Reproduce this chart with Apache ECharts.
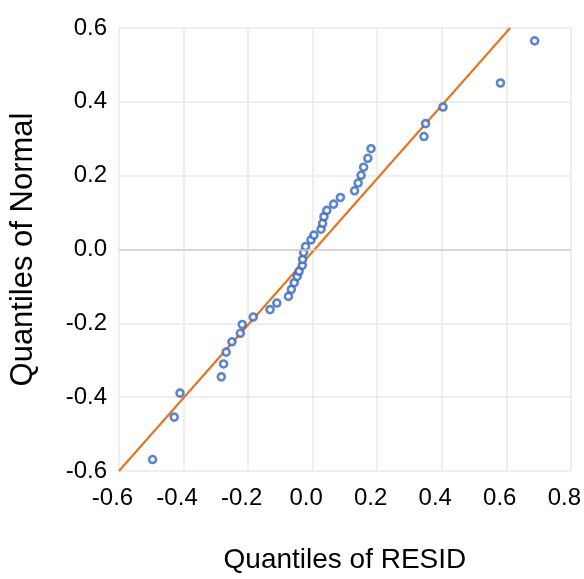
<!DOCTYPE html>
<html>
<head>
<meta charset="utf-8">
<script src="https://cdn.jsdelivr.net/npm/echarts@6/dist/echarts.min.js"></script>
<style>
  html, body { margin: 0; padding: 0; background: #fff; }
  #main { width: 584px; height: 579px; }
</style>
</head>
<body>
<div id="main"></div>
<script>
// residual quantiles (x) against normal quantiles (y)
let residQ = [-0.496, -0.429, -0.411, -0.283, -0.276, -0.268, -0.250, -0.224, -0.218, -0.184,
              -0.132, -0.111, -0.075, -0.066, -0.057, -0.048, -0.042, -0.032, -0.031, -0.028,
              -0.022, -0.005, 0.004, 0.026, 0.031, 0.035, 0.044, 0.065, 0.086, 0.130,
              0.141, 0.150, 0.158, 0.171, 0.181, 0.345, 0.350, 0.404, 0.582, 0.688];
let normalQ = [-0.569, -0.454, -0.389, -0.345, -0.310, -0.278, -0.250, -0.227, -0.203, -0.183,
               -0.163, -0.145, -0.127, -0.108, -0.090, -0.073, -0.059, -0.043, -0.027, -0.008,
               0.008, 0.026, 0.039, 0.055, 0.071, 0.089, 0.106, 0.123, 0.141, 0.159,
               0.180, 0.201, 0.223, 0.247, 0.273, 0.306, 0.341, 0.386, 0.451, 0.565];
// reference line ends
let refLine = [[-0.6, -0.6], [0.612, 0.6]];

let points = residQ.map(function (x, i) { return [x, normalQ[i]]; });

function fmt(v) {
    if (Math.abs(v) < 1e-9) return '0.0';
    return v.toFixed(1);
}

let myChart = echarts.init(document.getElementById('main'));
let font = 'Liberation Sans, Arial, sans-serif';
let option = {
    animation: false,
    grid: { left: 117, right: 13, top: 28, bottom: 101 },
    xAxis: {
        type: 'value',
        min: -0.6, max: 0.8, interval: 0.2,
        name: 'Quantiles of RESID',
        nameLocation: 'middle',
        nameGap: 75,
        nameTextStyle: { fontFamily: font, fontSize: 28, color: '#000' },
        axisLine: { show: false, onZero: false },
        axisTick: { show: false },
        // labels sit a little left of their gridlines in the original
        axisLabel: { formatter: fmt, fontFamily: font, fontSize: 24, color: '#000', margin: 15,
                     padding: [0, 13, 0, 0] },
        splitLine: { show: true, lineStyle: { color: '#e8e8e8', width: 1.5 } }
    },
    yAxis: {
        type: 'value',
        min: -0.6, max: 0.6, interval: 0.2,
        name: 'Quantiles of Normal',
        nameLocation: 'middle',
        nameGap: 80,
        nameTextStyle: { fontFamily: font, fontSize: 31, color: '#000' },
        axisLine: { show: false },
        axisTick: { show: false },
        axisLabel: { formatter: fmt, fontFamily: font, fontSize: 24, color: '#000', margin: 12 },
        splitLine: { show: true, lineStyle: { color: '#e8e8e8', width: 1.5 } }
    },
    series: [
        {
            type: 'line',
            data: refLine,
            symbol: 'none',
            silent: true,
            lineStyle: { color: '#E2761F', width: 2.2 },
            markLine: {
                silent: true,
                symbol: 'none',
                label: { show: false },
                lineStyle: { color: '#cfcfcf', width: 1.5, type: 'solid' },
                data: [{ yAxis: 0 }]
            },
            z: 2
        },
        {
            type: 'scatter',
            data: points,
            symbol: 'circle',
            symbolSize: 7,
            itemStyle: { color: '#ffffff', borderColor: '#3467BF', borderWidth: 2.6 },
            z: 3
        }
    ]
};
myChart.setOption(option);
</script>
</body>
</html>
